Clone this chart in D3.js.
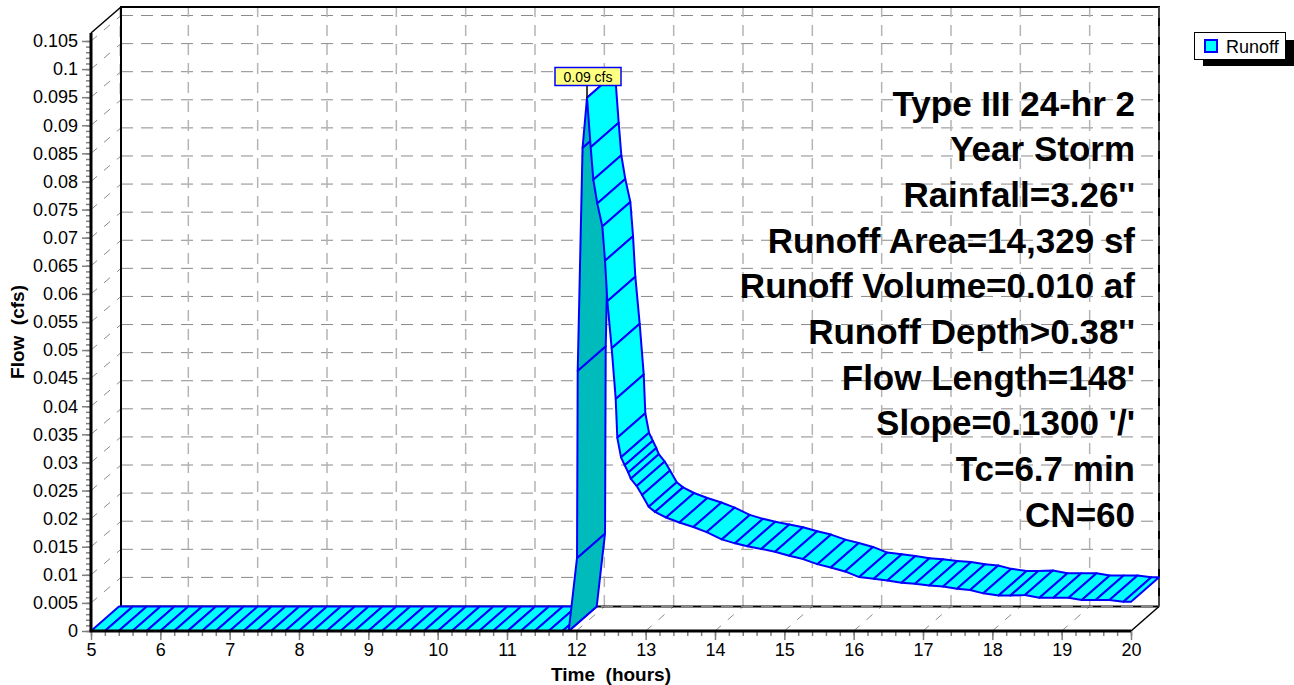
<!DOCTYPE html>
<html>
<head>
<meta charset="utf-8">
<script src="https://cdn.jsdelivr.net/npm/d3@7"></script>
<style>
html,body{margin:0;padding:0;background:#fff;overflow:hidden}
svg{display:block}
text{font-family:"Liberation Sans",Arial,sans-serif;white-space:pre}
</style>
</head>
<body>
<svg id="c" width="1294" height="685"></svg>
<script>
const hours = [5,5.2,5.4,5.6,5.8,6,6.2,6.4,6.6,6.8,7,7.2,7.4,7.6,7.8,8,8.2,8.4,8.6,8.8,9,9.2,9.4,9.6,9.8,10,10.2,10.4,10.6,10.8,11,11.2,11.4,11.6,11.8,11.89,
  12.01,12.02,12.09,12.154,
  12.207,12.245,12.302,12.375,12.414,12.447,12.51,12.568,12.591,12.645,12.698,12.75,12.785,12.871,12.948,13.044,13.135,13.294,13.486,13.688,13.88,14.097,14.289,14.466,14.668,14.866,15.07,15.27,15.476,15.67,15.875,16.08,16.29,16.486,16.69,16.885,17.09,17.29,17.49,17.68,17.87,18.09,18.26,18.47,18.68,18.88,19.1,19.29,19.49,19.69,19.89,20];
const flow = [0,0,0,0,0,0,0,0,0,0,0,0,0,0,0,0,0,0,0,0,0,0,0,0,0,0,0,0,0,0,0,0,0,0,0,0,
  .0130,.0463,.0860,.0949,
  .0861,.0803,.0761,.0720,.0659,.0587,.0503,.0413,.0344,.0309,.0295,.0282,.0271,.0258,.0242,.0221,.0212,.0202,.0193,.0185,.0176,.0163,.0156,.0151,.0146,.0141,.0134,.0128,.0119,.0113,.0106,.0096,.0093,.0090,.0086,.0084,.0081,.0079,.0075,.0073,.0067,.0063,.0063,.0064,.0059,.0059,.0059,.0055,.0055,.0055,.0052,.0052];
const xMajor = [5,6,7,8,9,10,11,12,13,14,15,16,17,18,19,20];
const yMajor = [0,.005,.01,.015,.02,.025,.03,.035,.04,.045,.05,.055,.06,.065,.07,.075,.08,.085,.09,.095,.1,.105];
const yLabels = ["0","0.005","0.01","0.015","0.02","0.025","0.03","0.035","0.04","0.045","0.05","0.055","0.06","0.065","0.07","0.075","0.08","0.085","0.09","0.095","0.1","0.105"];
const infoLines = ["Type III 24-hr 2","Year Storm","Rainfall=3.26''","Runoff Area=14,329 sf","Runoff Volume=0.010 af","Runoff Depth>0.38''","Flow Length=148'","Slope=0.1300 '/'","Tc=6.7 min","CN=60"];
const peakLabel = "0.09 cfs";
const peakHour = 12.154;
const seriesName = "Runoff";
const xTitle = "Time  (hours)";
const yTitle = "Flow  (cfs)";

const DX = 28, DY = -24.5;
const x = d3.scaleLinear().domain([5,20]).range([91,1131]);
const y = d3.scaleLinear().domain([0,.105]).range([631,41]);
const svg = d3.select("#c");

const gridCol = "#8c8c8c";
const grid = svg.append("g").attr("fill","none").attr("stroke",gridCol).attr("stroke-width",1);
const dashH = "12,8", dashV = "11,8";

// frame
const frame = svg.append("g").attr("fill","none").attr("stroke","#000");
frame.append("line").attr("x1",121).attr("y1",606).attr("x2",121).attr("y2",7).attr("stroke-width",2);
frame.append("line").attr("x1",120).attr("y1",7).attr("x2",1160).attr("y2",7).attr("stroke-width",2);
frame.append("line").attr("x1",1159).attr("y1",7).attr("x2",1159).attr("y2",606.5).attr("stroke-width",2);
frame.append("line").attr("x1",121).attr("y1",606.5).attr("x2",1159).attr("y2",606.5).attr("stroke-width",2);
frame.append("line").attr("x1",91).attr("y1",33).attr("x2",121).attr("y2",7).attr("stroke-width",1.5);
frame.append("line").attr("x1",1131).attr("y1",631).attr("x2",1159).attr("y2",606.5).attr("stroke-width",1.5);

// back wall horizontal grid + left wall diagonals
yMajor.slice(1).forEach(v=>{
  const p=y(v);
  grid.append("line").attr("x1",121).attr("x2",1159).attr("y1",p+DY-1).attr("y2",p+DY-1).attr("stroke-dasharray",dashH).attr("stroke","#8a8a8a");
  grid.append("line").attr("x1",91).attr("x2",121).attr("y1",p).attr("y2",p+DY-1).attr("stroke-dasharray","8,9");
});
// back wall vertical grid + floor diagonals
xMajor.slice(1,-1).forEach(v=>{
  const p=x(v);
  grid.append("line").attr("x1",p+DX).attr("x2",p+DX).attr("y1",606).attr("y2",7).attr("stroke-dasharray",dashV).attr("stroke","#b4b4b4").attr("stroke-width",1.5);
  grid.append("line").attr("x1",p).attr("x2",p+DX).attr("y1",631).attr("y2",606.5).attr("stroke-dasharray","8,9");
});
grid.append("line").attr("x1",120.5).attr("x2",120.5).attr("y1",7).attr("y2",100).attr("stroke","#a8a8a8").attr("stroke-width",2).attr("stroke-dasharray",dashV);
svg.append("line").attr("x1",121).attr("x2",1159).attr("y1",606.5).attr("y2",606.5).attr("stroke","#8c8c8c").attr("stroke-dasharray",dashH).attr("stroke-width",1);
svg.append("line").attr("x1",1159).attr("x2",1159).attr("y1",7).attr("y2",606.5).attr("stroke","#8c8c8c").attr("stroke-dasharray",dashV).attr("stroke-width",1);

// series ribbon
const points = hours.map((t,i)=>({t,q:flow[i]}));
const quad = (a,b)=>[[x(a.t),y(a.q)],[x(a.t)+DX,y(a.q)+DY],[x(b.t)+DX,y(b.q)+DY],[x(b.t),y(b.q)]];
const line = d3.line();
svg.append("g").selectAll("path").data(d3.pairs(points)).join("path")
  .attr("d",d=>line(quad(d[0],d[1]))+"Z")
  .attr("fill",d=>(d[1].q>d[0].q && d[1].t<=peakHour)?"#00bbbb":"#00ffff")
  .attr("stroke","#0000ff").attr("stroke-width",2).attr("stroke-linejoin","round");

// axes
const xMinor = d3.range(5,20.01,.2).map(v=>+v.toFixed(1));
const yMinor = d3.range(0,.10501,.001).map(v=>+v.toFixed(3));
const gx = svg.append("g").attr("transform","translate(0,631)");
gx.call(d3.axisBottom(x).tickValues(xMinor).tickSize(5).tickFormat(""));
gx.selectAll("path").remove();
gx.selectAll("line").attr("stroke","#808080").attr("stroke-width",1.5);
const gx2 = svg.append("g").attr("transform","translate(0,631)");
gx2.call(d3.axisBottom(x).tickValues(xMajor).tickSize(9).tickPadding(3).tickFormat(d3.format("d")));
gx2.selectAll("path").remove();
gx2.selectAll("line").attr("stroke","#808080").attr("stroke-width",1.5);
gx2.selectAll("text").attr("font-size",18).attr("fill","#000").attr("font-family","Liberation Sans");

const gy = svg.append("g").attr("transform","translate(91,0)");
gy.call(d3.axisLeft(y).tickValues(yMinor).tickSize(5).tickFormat(""));
gy.selectAll("path").remove();
gy.selectAll("line").attr("stroke","#808080").attr("stroke-width",1.5);
const gy2 = svg.append("g").attr("transform","translate(91,0)");
gy2.call(d3.axisLeft(y).tickValues(yMajor).tickSize(9).tickPadding(4).tickFormat((d,i)=>yLabels[i]));
gy2.selectAll("path").remove();
gy2.selectAll("line").attr("stroke","#808080").attr("stroke-width",1.5);
gy2.selectAll("text").attr("font-size",18).attr("fill","#000").attr("font-family","Liberation Sans");

svg.append("line").attr("x1",91).attr("x2",91).attr("y1",631).attr("y2",33).attr("stroke","#000").attr("stroke-width",3);
svg.append("line").attr("x1",89.5).attr("x2",1131).attr("y1",631).attr("y2",631).attr("stroke","#000").attr("stroke-width",3);

// axis titles
svg.append("text").attr("x",611).attr("y",681).attr("text-anchor","middle").attr("font-size",19).attr("font-weight","bold").text(xTitle);
svg.append("text").attr("transform","translate(24,332) rotate(-90)").attr("text-anchor","middle").attr("font-size",19).attr("font-weight","bold").text(yTitle);

// info text
svg.append("g").selectAll("text").data(infoLines).join("text")
  .attr("x",1135).attr("y",(d,i)=>115.5+i*45.7).attr("text-anchor","end")
  .attr("font-size",35).attr("font-weight","bold").attr("fill","#000").text(d=>d);

// peak label
const px = x(peakHour), py = y(.0949);
svg.append("line").attr("x1",px).attr("x2",px).attr("y1",py).attr("y2",86).attr("stroke","#000").attr("stroke-width",1.5);
svg.append("rect").attr("x",555).attr("y",67.5).attr("width",66).attr("height",18).attr("fill","#ffff80").attr("stroke","#0000ff").attr("stroke-width",1.5);
svg.append("text").attr("x",588).attr("y",82).attr("text-anchor","middle").attr("font-size",14).attr("fill","#000").text(peakLabel);

// legend
svg.append("rect").attr("x",1203).attr("y",40).attr("width",91).attr("height",26).attr("fill","#000");
svg.append("rect").attr("x",1194.5).attr("y",32.5).attr("width",91).attr("height",27).attr("fill","#fff").attr("stroke","#000").attr("stroke-width",1);
svg.append("rect").attr("x",1205).attr("y",40).attr("width",12).attr("height",12).attr("fill","#00ffff").attr("stroke","#0000ff").attr("stroke-width",2);
svg.append("text").attr("x",1226).attr("y",53).attr("font-size",18).attr("fill","#000").text(seriesName);
</script>
</body>
</html>
